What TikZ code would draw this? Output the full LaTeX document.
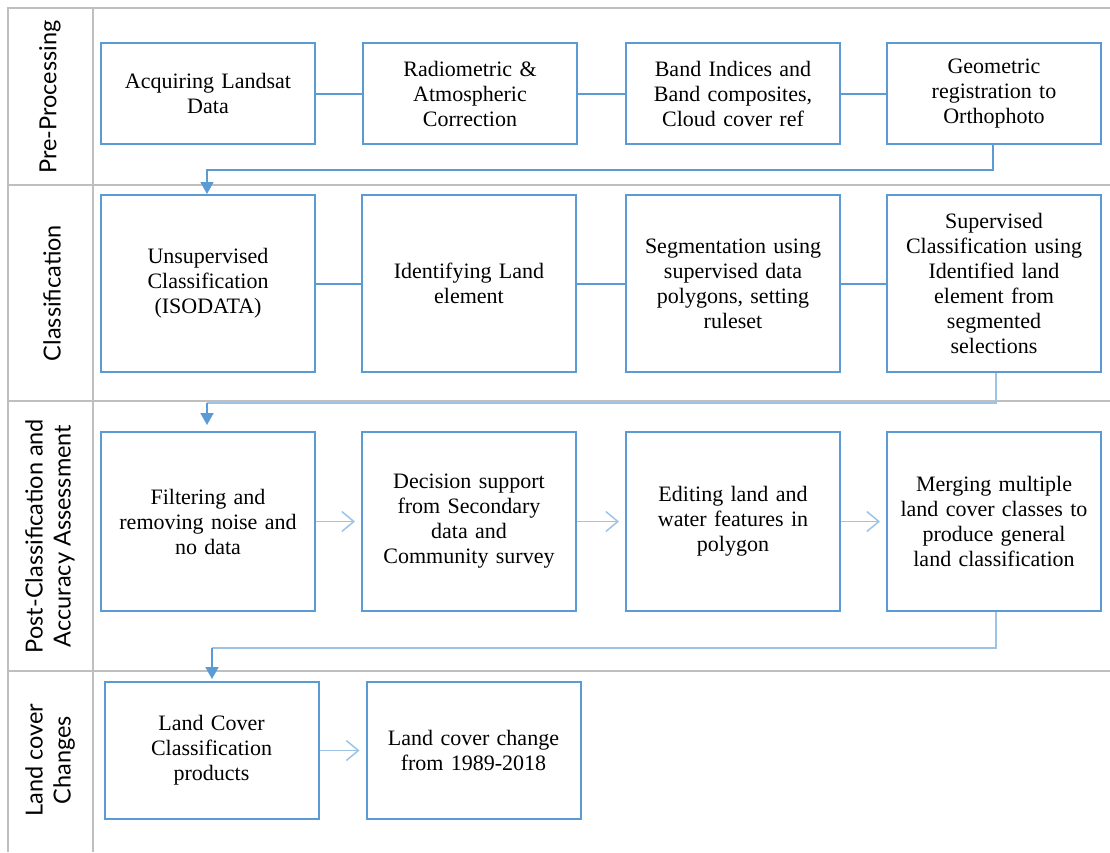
\documentclass[tikz,border=0pt]{standalone}
\usepackage{fontspec}
\setmainfont{Liberation Serif}
\newfontfamily\lanefont{Lato}
\usetikzlibrary{arrows.meta,positioning}
\definecolor{boxblue}{HTML}{5B9BD5}
\definecolor{lightblue}{HTML}{9DC3E6}
\definecolor{gridgray}{HTML}{BFBFBF}
\tikzset{
  stepbox/.style={draw=boxblue, line width=2pt, fill=white, align=center, inner sep=0pt,
    minimum width=214pt, text width=210pt, font=\fontsize{22}{25}\selectfont},
  r1/.style={stepbox, minimum height=101pt},
  r2/.style={stepbox, minimum height=177pt},
  r3/.style={stepbox, minimum height=179pt},
  r4/.style={stepbox, minimum height=137pt},
  lane/.style={rotate=90, align=center, font=\lanefont\fontsize{23.5}{28}\selectfont},
  grid/.style={draw=gridgray, line width=1.5pt},
  link/.style={draw=boxblue, line width=2pt},
  flow/.style={draw=lightblue, line width=1.5pt, shorten >=6pt, -{Straight Barb[length=12pt,width=20pt]}},
  drop/.style={draw=boxblue, line width=1.8pt, -{Triangle[length=12pt,width=13pt]}},
  dropl/.style={draw=lightblue, line width=1.8pt},
}
\begin{document}
\begin{tikzpicture}[x=1pt,y=-1pt]
\useasboundingbox (0,0) rectangle (1110,852);
% grid
\draw[grid] (1110,8) -- (8,8) -- (8,852);
\draw[grid] (93,8) -- (93,852);
\draw[grid] (8,185) -- (1110,185);
\draw[grid] (8,401) -- (1110,401);
\draw[grid] (8,671) -- (1110,671);
% lane labels
\node[lane] (L1) at (50,97) {Pre-Processing};
\node[lane] (L2) at (52,293) {Classification};
\node[lane] (L3) at (50,536) {Post-Classification and\\Accuracy Assessment};
\node[lane] (L4) at (50,760) {Land cover\\Changes};
% row 1
\node[r1] (a1) at (208,93.5) {Acquiring Landsat\\Data};
\node[r1] (a2) at (470,93.5) {Radiometric \&\\Atmospheric\\Correction};
\node[r1] (a3) at (733,93.5) {Band Indices and\\Band composites,\\Cloud cover ref};
\node[r1] (a4) at (994,93.5) {Geometric\\registration to\\Orthophoto};
% row 2
\node[r2] (b1) at (208,283.5) {Unsupervised\\Classification\\(ISODATA)};
\node[r2] (b2) at (469,283.5) {Identifying Land\\element};
\node[r2] (b3) at (733,283.5) {Segmentation using\\supervised data\\polygons, setting\\ruleset};
\node[r2] (b4) at (994,283.5) {Supervised\\Classification using\\Identified land\\element from\\segmented\\selections};
% row 3
\node[r3] (c1) at (208,521.5) {Filtering and\\removing noise and\\no data};
\node[r3] (c2) at (469,521.5) {Decision support\\from Secondary\\data and\\Community survey};
\node[r3] (c3) at (733,521.5) {Editing land and\\water features in\\polygon};
\node[r3] (c4) at (994,521.5) {Merging multiple\\land cover classes to\\produce general\\land classification};
% row 4
\node[r4] (d1) at (211.5,750.5) {Land Cover\\Classification\\products};
\node[r4] (d2) at (473.5,750.5) {Land cover change\\from 1989-2018};
% links
\draw[link] (a1) -- (a2);
\draw[link] (a2) -- (a3);
\draw[link] (a3) -- (a4);
\draw[link] (b1) -- (b2);
\draw[link] (b2) -- (b3);
\draw[link] (b3) -- (b4);
\draw[flow] (c1) -- (c2);
\draw[flow] (c2) -- (c3);
\draw[flow] (c3) -- (c4);
\draw[flow] (d1) -- (d2);
% lane transitions
\coordinate (t1) at (993,170);
\coordinate (t2) at (207,170);
\draw[drop] (a4.south -| t1) -- (t1) -- (t2) -- (t2 |- b1.north);
\coordinate (u1) at (996,403);
\coordinate (u2) at (207,403);
\draw[dropl] (b4.south -| u1) -- (u1) -- (u2);
\draw[drop] (u2) -- ([yshift=6pt]u2 |- c1.north);
\coordinate (v1) at (996,648);
\coordinate (v2) at (212,648);
\draw[dropl] (c4.south -| v1) -- (v1) -- (v2);
\draw[drop] (v2) -- ([yshift=2pt]v2 |- d1.north);
\end{tikzpicture}
\end{document}
